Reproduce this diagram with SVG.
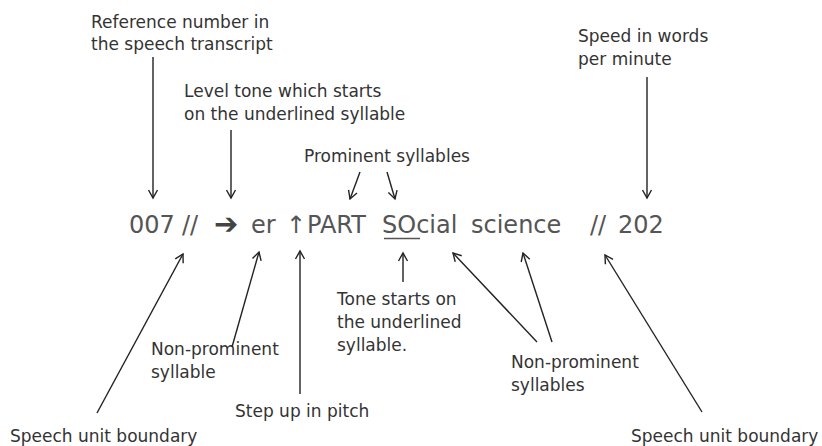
<svg xmlns="http://www.w3.org/2000/svg" width="822" height="446" viewBox="0 0 822 446">
<defs>
<marker id="ah" markerUnits="userSpaceOnUse" markerWidth="14" markerHeight="14" refX="0" refY="0" viewBox="-10 -7 12 14" orient="auto" overflow="visible">
<path d="M-8,-4.5 L0,0 L-8,4.5" fill="none" stroke="#222" stroke-width="1.4" stroke-linejoin="miter"/>
</marker>
<style>
.lbl{font-family:"DejaVu Sans","Liberation Sans",sans-serif;font-size:17px;fill:#333}
.main{font-family:"DejaVu Sans","Liberation Sans",sans-serif;font-size:24px;fill:#555}
.c line{stroke:#222;stroke-width:1.4;marker-end:url(#ah)}
</style>
</defs>
<rect width="822" height="446" fill="#fff"/>
<g id="main-line">
<text class="main" x="129" y="233">007</text>
<text class="main" x="182" y="233">//</text>
<text class="main" x="214" y="234" style="font-size:29px;font-weight:bold;fill:#444">➔</text>
<text class="main" x="251" y="233">er</text>
<text class="main" x="286" y="233">↑</text>
<text class="main" x="307" y="233">PART</text>
<text class="main" x="382" y="233">SOcial</text>
<text class="main" x="471" y="233">science</text>
<text class="main" x="590" y="233">//</text>
<text class="main" x="618" y="233">202</text>
<line x1="384" y1="238.5" x2="420" y2="238.5" stroke="#555" stroke-width="1.6"/>
</g>
<g id="ref-number">
<text class="lbl" x="91" y="28">Reference number in</text>
<text class="lbl" x="91" y="50">the speech transcript</text>
</g>
<g id="level-tone">
<text class="lbl" x="184" y="97">Level tone which starts</text>
<text class="lbl" x="184" y="120">on the underlined syllable</text>
</g>
<g id="prominent">
<text class="lbl" x="304" y="162">Prominent syllables</text>
</g>
<g id="speed">
<text class="lbl" x="578" y="42">Speed in words</text>
<text class="lbl" x="578" y="65">per minute</text>
</g>
<g id="tone-starts">
<text class="lbl" x="337" y="305">Tone starts on</text>
<text class="lbl" x="337" y="328">the underlined</text>
<text class="lbl" x="337" y="351">syllable.</text>
</g>
<g id="non-prominent-1">
<text class="lbl" x="151" y="355">Non-prominent</text>
<text class="lbl" x="151" y="378">syllable</text>
</g>
<g id="step-up">
<text class="lbl" x="235" y="417">Step up in pitch</text>
</g>
<g id="boundary-left">
<text class="lbl" x="10" y="442">Speech unit boundary</text>
</g>
<g id="non-prominent-2">
<text class="lbl" x="511" y="368">Non-prominent</text>
<text class="lbl" x="511" y="391">syllables</text>
</g>
<g id="boundary-right">
<text class="lbl" x="631" y="442">Speech unit boundary</text>
</g>
<g id="connectors" class="c">
<line x1="153" y1="57" x2="153" y2="198"/>
<line x1="231" y1="130" x2="231" y2="198"/>
<line x1="360" y1="172" x2="350" y2="199"/>
<line x1="387" y1="172" x2="395" y2="199"/>
<line x1="647" y1="77" x2="647" y2="198"/>
<line x1="97" y1="413" x2="183" y2="254"/>
<line x1="232" y1="347" x2="259" y2="252"/>
<line x1="300" y1="394" x2="300" y2="251"/>
<line x1="403" y1="282" x2="403" y2="253"/>
<line x1="537" y1="342" x2="453" y2="253"/>
<line x1="552" y1="342" x2="523" y2="253"/>
<line x1="702" y1="412" x2="605" y2="255"/>
</g>
</svg>
